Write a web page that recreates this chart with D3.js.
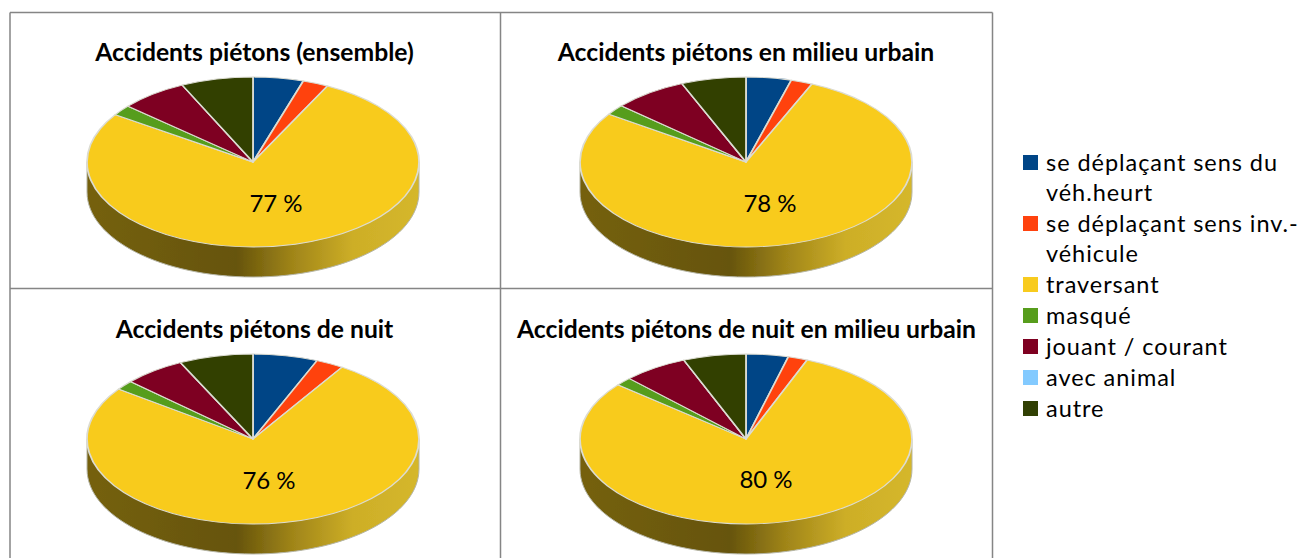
<!DOCTYPE html>
<html>
<head>
<meta charset="utf-8">
<script src="https://cdn.jsdelivr.net/npm/d3@7"></script>
<style>
  html, body { margin: 0; padding: 0; background: #fff; overflow: hidden; }
  text { font-family: Lato, "Open Sans", sans-serif; fill: #000; }
</style>
</head>
<body>
<script>
const categories = ["se déplaçant sens du véh.heurt", "se déplaçant sens inv.-véhicule", "traversant", "masqué", "jouant / courant", "avec animal", "autre"];
const colors = ["#004586", "#ff420e", "#f8cb1e", "#579d1c", "#7e0021", "#83caff", "#314004"];
const legendLines = [["se déplaçant sens du", "véh.heurt"], ["se déplaçant sens inv.-", "véhicule"], ["traversant"], ["masqué"], ["jouant / courant"], ["avec animal"], ["autre"]];

const titles = ["Accidents piétons (ensemble)", "Accidents piétons en milieu urbain", "Accidents piétons de nuit", "Accidents piétons de nuit en milieu urbain"];
const ensemble = [4.9, 2.5, 77, 2, 6.6, 0, 7];
const urbain = [4.4, 2.1, 78, 2, 7.2, 0, 6.3];
const nuit = [6.3, 2.7, 76, 1.8, 6, 0, 7.2];
const nuitUrbain = [4.1, 1.9, 80, 1.6, 6.3, 0, 6.1];
const series = [ensemble, urbain, nuit, nuitUrbain];
const labels = ["77 %", "78 %", "76 %", "80 %"];

const w = 1300, h = 558;
const rx = 166, ry = 85, depth = 30;
const centers = [[253, 162], [746, 162], [253, 439], [746, 439]];
const labelPos = [[276, 212], [770, 212], [269, 489], [766, 488]];
const titlePos = [[254.5, 61], [746, 61], [254.5, 338], [746.5, 338]];

const svg = d3.select("body").append("svg").attr("width", w).attr("height", h);

const defs = svg.append("defs");
// side of the pie
const grad = defs.append("linearGradient").attr("id", "rim");
[[0, "#75610f"], [0.45, "#66540b"], [0.62, "#a08519"], [0.8, "#cdae27"], [1, "#d5b72c"]].forEach(s => {
  grad.append("stop").attr("offset", s[0]).attr("stop-color", s[1]);
});
// the reference picture is a bit soft
defs.append("filter").attr("id", "soft")
  .attr("x", "-5%").attr("y", "-5%").attr("width", "110%").attr("height", "110%")
  .append("feGaussianBlur").attr("stdDeviation", 0.6);

// table grid
const grid = svg.append("g").attr("stroke", "#858585").attr("stroke-width", 1.5).attr("fill", "none");
grid.append("path").attr("d", "M10,12.5H992.5M10,288.5H992.5M10,12.5V558M500.5,12.5V558M992.5,12.5V558");

const pie = d3.pie().sort(null);
const arc = d3.arc().innerRadius(0).outerRadius(rx);
const scaleY = ry / rx;

series.forEach((values, i) => {
  const g = svg.append("g")
    .attr("transform", "translate(" + centers[i][0] + "," + centers[i][1] + ")")
    .attr("filter", "url(#soft)");

  const rim = d3.path();
  rim.moveTo(-rx, 0);
  rim.lineTo(-rx, depth);
  rim.bezierCurveTo(-rx, depth + ry * 0.552, -rx * 0.552, depth + ry, 0, depth + ry);
  rim.bezierCurveTo(rx * 0.552, depth + ry, rx, depth + ry * 0.552, rx, depth);
  rim.lineTo(rx, 0);
  rim.closePath();
  g.append("path").attr("d", rim.toString()).attr("fill", "url(#rim)").attr("stroke", "#b5b5a5").attr("stroke-width", 1);

  const top = g.append("g").attr("transform", "scale(1," + scaleY + ")");
  top.selectAll("path")
    .data(pie(values))
    .enter()
    .append("path")
    .attr("d", arc)
    .attr("fill", (d, j) => colors[j])
    .attr("stroke", "#dcdcd2")
    .attr("stroke-width", 1.8)
    .attr("stroke-linejoin", "round");

  svg.append("text")
    .attr("x", titlePos[i][0]).attr("y", titlePos[i][1])
    .attr("text-anchor", "middle")
    .attr("font-size", 24.7).attr("font-weight", 700)
    .text(titles[i]);

  svg.append("text")
    .attr("x", labelPos[i][0]).attr("y", labelPos[i][1])
    .attr("text-anchor", "middle")
    .attr("font-size", 24)
    .text(labels[i]);
});

// legend
const legendTop = [163, 224, 285, 316, 347, 378, 409];
const legend = svg.append("g");
legendLines.forEach((lines, i) => {
  legend.append("rect")
    .attr("x", 1023).attr("y", legendTop[i] - 8)
    .attr("width", 15).attr("height", 15)
    .attr("fill", colors[i]);
  lines.forEach((line, k) => {
    legend.append("text")
      .attr("x", 1046).attr("y", legendTop[i] + 8 + k * 30)
      .attr("font-size", 23.5)
      .attr("letter-spacing", 0.95)
      .text(line);
  });
});
</script>
</body>
</html>
